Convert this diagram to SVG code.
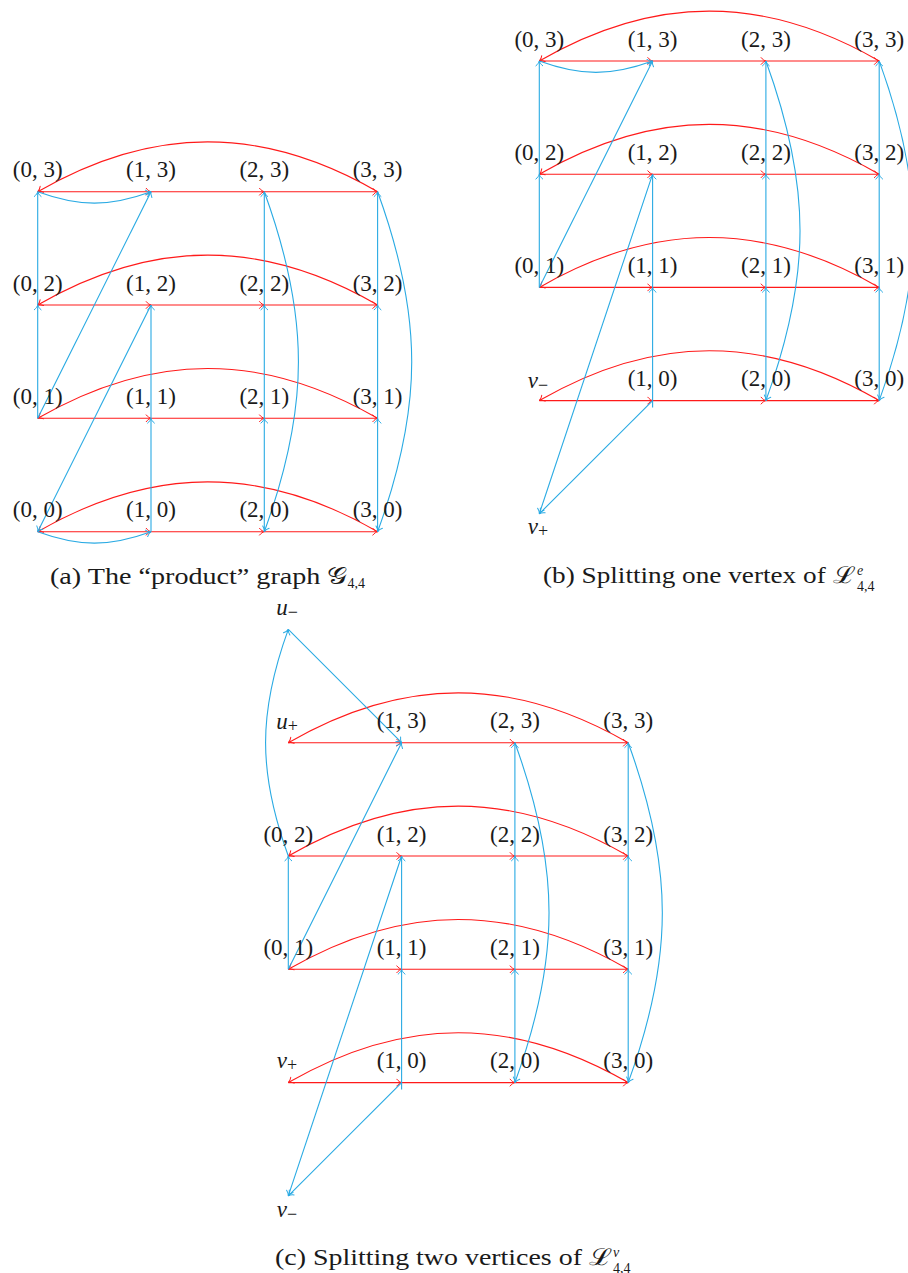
<svg xmlns="http://www.w3.org/2000/svg" width="908" height="1273" viewBox="0 0 908 1273">
<defs>
<style>
.r{stroke:#ff1a1a;fill:none;stroke-width:1.1;marker-end:url(#ar)}
.b{stroke:#29aae3;fill:none;stroke-width:1.1;marker-end:url(#ab)}
.bn{stroke:#29aae3;fill:none;stroke-width:1.1}
text{font-family:"Liberation Serif","DejaVu Serif",serif;fill:#1a1a1a}
.lb{font-size:23px;text-anchor:middle}
.vl{font-size:23px;text-anchor:middle;font-style:italic}
.sb{font-size:18px;font-style:normal}
.cap{font-size:23px}
.sm{font-size:14px}
</style>
<marker id="ar" viewBox="-6 -5 8 10" markerWidth="8" markerHeight="10" refX="0" refY="0" orient="auto" markerUnits="userSpaceOnUse">
<path d="M-4.8,-3.4 C-3.2,-1.3 -1.2,-0.3 0,0 C-1.2,0.3 -3.2,1.3 -4.8,3.4" fill="none" stroke="#ff1a1a" stroke-width="1" stroke-linecap="round"/>
</marker>
<marker id="ab" viewBox="-6 -5 8 10" markerWidth="8" markerHeight="10" refX="0" refY="0" orient="auto" markerUnits="userSpaceOnUse">
<path d="M-4.8,-3.4 C-3.2,-1.3 -1.2,-0.3 0,0 C-1.2,0.3 -3.2,1.3 -4.8,3.4" fill="none" stroke="#29aae3" stroke-width="1" stroke-linecap="round"/>
</marker>
</defs>

<g id="connectors">
<g id="a-red">
<path class="r" d="M37.7,191.7 L151,191.7"/><path class="r" d="M151,191.7 L264.3,191.7"/><path class="r" d="M264.3,191.7 L377.6,191.7"/>
<path class="r" d="M377.6,191.7 C262.4,125.2 152.9,125.2 37.7,191.7"/>
<path class="r" d="M37.7,305 L151,305"/><path class="r" d="M151,305 L264.3,305"/><path class="r" d="M264.3,305 L377.6,305"/>
<path class="r" d="M377.6,305 C262.4,238.5 152.9,238.5 37.7,305"/>
<path class="r" d="M37.7,418.3 L151,418.3"/><path class="r" d="M151,418.3 L264.3,418.3"/><path class="r" d="M264.3,418.3 L377.6,418.3"/>
<path class="r" d="M377.6,418.3 C262.4,351.8 152.9,351.8 37.7,418.3"/>
<path class="r" d="M37.7,531.7 L151,531.7"/><path class="r" d="M151,531.7 L264.3,531.7"/><path class="r" d="M264.3,531.7 L377.6,531.7"/>
<path class="r" d="M377.6,531.7 C262.4,465.2 152.9,465.2 37.7,531.7"/>
</g>
<g id="a-blue">
<path class="b" d="M37.7,191.7 C79.4,206.9 109.3,206.9 151,191.7"/>
<path class="b" d="M37.7,531.7 C79.4,546.9 109.3,546.9 151,531.7"/>
<path class="b" d="M37.7,418.3 L37.7,305"/><path class="b" d="M37.7,305 L37.7,191.7"/>
<path class="b" d="M37.7,418.3 L151,191.7"/>
<path class="b" d="M151,305 L37.7,531.7"/>
<path class="b" d="M151,531.7 L151,418.3"/><path class="b" d="M151,418.3 L151,305"/>
<path class="b" d="M264.3,531.7 L264.3,418.3"/><path class="b" d="M264.3,418.3 L264.3,305"/><path class="b" d="M264.3,305 L264.3,191.7"/>
<path class="b" d="M264.3,191.7 C309.8,316.8 309.8,406.6 264.3,531.7"/>
<path class="b" d="M377.6,531.7 L377.6,418.3"/><path class="b" d="M377.6,418.3 L377.6,305"/><path class="b" d="M377.6,305 L377.6,191.7"/>
<path class="b" d="M377.6,191.7 C423.1,316.8 423.1,406.6 377.6,531.7"/>
</g>

<g id="b-red">
<path class="r" d="M539.3,61 L652.6,61"/><path class="r" d="M652.6,61 L765.9,61"/><path class="r" d="M765.9,61 L879.2,61"/>
<path class="r" d="M879.2,61 C764,-5.5 654.5,-5.5 539.3,61"/>
<path class="r" d="M539.3,174.2 L652.6,174.2"/><path class="r" d="M652.6,174.2 L765.9,174.2"/><path class="r" d="M765.9,174.2 L879.2,174.2"/>
<path class="r" d="M879.2,174.2 C764,107.7 654.5,107.7 539.3,174.2"/>
<path class="r" d="M539.3,287.4 L652.6,287.4"/><path class="r" d="M652.6,287.4 L765.9,287.4"/><path class="r" d="M765.9,287.4 L879.2,287.4"/>
<path class="r" d="M879.2,287.4 C764,220.9 654.5,220.9 539.3,287.4"/>
<path class="r" d="M539.3,400.6 L652.6,400.6"/><path class="r" d="M652.6,400.6 L765.9,400.6"/><path class="r" d="M765.9,400.6 L879.2,400.6"/>
<path class="r" d="M879.2,400.6 C764,334.1 654.5,334.1 539.3,400.6"/>
</g>
<g id="b-blue">
<path class="b" d="M539.3,61 C581,76.2 610.9,76.2 652.6,61"/>
<path class="b" d="M539.3,287.4 L539.3,174.2"/><path class="b" d="M539.3,174.2 L539.3,61"/>
<path class="b" d="M539.3,287.4 L652.6,61"/>
<path class="b" d="M652.6,174.2 L539.3,513.8"/>
<path class="b" d="M652.6,400.6 L539.3,513.8"/>
<path class="b" d="M652.6,407.6 L652.6,287.4"/><path class="b" d="M652.6,287.4 L652.6,174.2"/>
<path class="b" d="M765.9,400.6 L765.9,287.4"/><path class="b" d="M765.9,287.4 L765.9,174.2"/><path class="b" d="M765.9,174.2 L765.9,61"/>
<path class="b" d="M765.9,61 C811.4,186.1 811.4,275.5 765.9,400.6"/>
<path class="b" d="M879.2,400.6 L879.2,287.4"/><path class="b" d="M879.2,287.4 L879.2,174.2"/><path class="b" d="M879.2,174.2 L879.2,61"/>
<path class="b" d="M879.2,61 C924.7,186.1 924.7,275.5 879.2,400.6"/>
</g>

<g id="c-red">
<path class="r" d="M288.3,742.7 L401.6,742.7"/><path class="r" d="M401.6,742.7 L514.9,742.7"/><path class="r" d="M514.9,742.7 L628.2,742.7"/>
<path class="r" d="M628.2,742.7 C513,676.2 403.5,676.2 288.3,742.7"/>
<path class="r" d="M288.3,856 L401.6,856"/><path class="r" d="M401.6,856 L514.9,856"/><path class="r" d="M514.9,856 L628.2,856"/>
<path class="r" d="M628.2,856 C513,789.5 403.5,789.5 288.3,856"/>
<path class="r" d="M288.3,969.3 L401.6,969.3"/><path class="r" d="M401.6,969.3 L514.9,969.3"/><path class="r" d="M514.9,969.3 L628.2,969.3"/>
<path class="r" d="M628.2,969.3 C513,902.8 403.5,902.8 288.3,969.3"/>
<path class="r" d="M288.3,1082.6 L401.6,1082.6"/><path class="r" d="M401.6,1082.6 L514.9,1082.6"/><path class="r" d="M514.9,1082.6 L628.2,1082.6"/>
<path class="r" d="M628.2,1082.6 C513,1016.1 403.5,1016.1 288.3,1082.6"/>
</g>
<g id="c-blue">
<path class="b" d="M288.3,629.4 L401.6,742.7"/>
<path class="b" d="M288.3,856 C258,772.6 258,712.8 288.3,629.4"/>
<path class="b" d="M288.3,969.3 L288.3,856"/>
<path class="b" d="M288.3,969.3 L401.6,742.7"/>
<path class="b" d="M401.6,856 L288.3,1195.9"/>
<path class="b" d="M401.6,1082.6 L288.3,1195.9"/>
<path class="b" d="M401.6,1089.6 L401.6,969.3"/><path class="b" d="M401.6,969.3 L401.6,856"/>
<path class="b" d="M514.9,1082.6 L514.9,969.3"/><path class="b" d="M514.9,969.3 L514.9,856"/><path class="b" d="M514.9,856 L514.9,742.7"/>
<path class="b" d="M514.9,742.7 C560.4,867.8 560.4,957.5 514.9,1082.6"/>
<path class="b" d="M628.2,1082.6 L628.2,969.3"/><path class="b" d="M628.2,969.3 L628.2,856"/><path class="b" d="M628.2,856 L628.2,742.7"/>
<path class="b" d="M628.2,742.7 C673.7,867.8 673.7,957.5 628.2,1082.6"/>
</g>
</g>

<g id="a-0-3"><text class="lb" x="37.7" y="177">(0, 3)</text></g>
<g id="a-1-3"><text class="lb" x="151" y="177">(1, 3)</text></g>
<g id="a-2-3"><text class="lb" x="264.3" y="177">(2, 3)</text></g>
<g id="a-3-3"><text class="lb" x="377.6" y="177">(3, 3)</text></g>
<g id="a-0-2"><text class="lb" x="37.7" y="290.5">(0, 2)</text></g>
<g id="a-1-2"><text class="lb" x="151" y="290.5">(1, 2)</text></g>
<g id="a-2-2"><text class="lb" x="264.3" y="290.5">(2, 2)</text></g>
<g id="a-3-2"><text class="lb" x="377.6" y="290.5">(3, 2)</text></g>
<g id="a-0-1"><text class="lb" x="37.7" y="403.8">(0, 1)</text></g>
<g id="a-1-1"><text class="lb" x="151" y="403.8">(1, 1)</text></g>
<g id="a-2-1"><text class="lb" x="264.3" y="403.8">(2, 1)</text></g>
<g id="a-3-1"><text class="lb" x="377.6" y="403.8">(3, 1)</text></g>
<g id="a-0-0"><text class="lb" x="37.7" y="517.2">(0, 0)</text></g>
<g id="a-1-0"><text class="lb" x="151" y="517.2">(1, 0)</text></g>
<g id="a-2-0"><text class="lb" x="264.3" y="517.2">(2, 0)</text></g>
<g id="a-3-0"><text class="lb" x="377.6" y="517.2">(3, 0)</text></g>

<g id="b-0-3"><text class="lb" x="539.3" y="46.5">(0, 3)</text></g>
<g id="b-1-3"><text class="lb" x="652.6" y="46.5">(1, 3)</text></g>
<g id="b-2-3"><text class="lb" x="765.9" y="46.5">(2, 3)</text></g>
<g id="b-3-3"><text class="lb" x="879.2" y="46.5">(3, 3)</text></g>
<g id="b-0-2"><text class="lb" x="539.3" y="159.7">(0, 2)</text></g>
<g id="b-1-2"><text class="lb" x="652.6" y="159.7">(1, 2)</text></g>
<g id="b-2-2"><text class="lb" x="765.9" y="159.7">(2, 2)</text></g>
<g id="b-3-2"><text class="lb" x="879.2" y="159.7">(3, 2)</text></g>
<g id="b-0-1"><text class="lb" x="539.3" y="272.9">(0, 1)</text></g>
<g id="b-1-1"><text class="lb" x="652.6" y="272.9">(1, 1)</text></g>
<g id="b-2-1"><text class="lb" x="765.9" y="272.9">(2, 1)</text></g>
<g id="b-3-1"><text class="lb" x="879.2" y="272.9">(3, 1)</text></g>
<g id="b-vminus"><text class="vl" x="538" y="387.5">v<tspan class="sb" dy="3">−</tspan></text></g>
<g id="b-1-0"><text class="lb" x="652.6" y="386.1">(1, 0)</text></g>
<g id="b-2-0"><text class="lb" x="765.9" y="386.1">(2, 0)</text></g>
<g id="b-3-0"><text class="lb" x="879.2" y="386.1">(3, 0)</text></g>
<g id="b-vplus"><text class="vl" x="538" y="533.5">v<tspan class="sb" dy="3">+</tspan></text></g>

<g id="c-uminus"><text class="vl" x="287" y="615">u<tspan class="sb" dy="3">−</tspan></text></g>
<g id="c-uplus"><text class="vl" x="287" y="728.5">u<tspan class="sb" dy="3">+</tspan></text></g>
<g id="c-1-3"><text class="lb" x="401.6" y="728.2">(1, 3)</text></g>
<g id="c-2-3"><text class="lb" x="514.9" y="728.2">(2, 3)</text></g>
<g id="c-3-3"><text class="lb" x="628.2" y="728.2">(3, 3)</text></g>
<g id="c-0-2"><text class="lb" x="288.3" y="841.5">(0, 2)</text></g>
<g id="c-1-2"><text class="lb" x="401.6" y="841.5">(1, 2)</text></g>
<g id="c-2-2"><text class="lb" x="514.9" y="841.5">(2, 2)</text></g>
<g id="c-3-2"><text class="lb" x="628.2" y="841.5">(3, 2)</text></g>
<g id="c-0-1"><text class="lb" x="288.3" y="954.8">(0, 1)</text></g>
<g id="c-1-1"><text class="lb" x="401.6" y="954.8">(1, 1)</text></g>
<g id="c-2-1"><text class="lb" x="514.9" y="954.8">(2, 1)</text></g>
<g id="c-3-1"><text class="lb" x="628.2" y="954.8">(3, 1)</text></g>
<g id="c-vplus"><text class="vl" x="287" y="1068.3">v<tspan class="sb" dy="3">+</tspan></text></g>
<g id="c-1-0"><text class="lb" x="401.6" y="1068.1">(1, 0)</text></g>
<g id="c-2-0"><text class="lb" x="514.9" y="1068.1">(2, 0)</text></g>
<g id="c-3-0"><text class="lb" x="628.2" y="1068.1">(3, 0)</text></g>
<g id="c-vminus"><text class="vl" x="287" y="1216.5">v<tspan class="sb" dy="3">−</tspan></text></g>

<g id="caption-a">
<text class="cap" x="50" y="584" textLength="297" lengthAdjust="spacingAndGlyphs">(a) The “product” graph 𝒢</text>
<text class="sm" x="347.5" y="587.5">4,4</text>
</g>
<g id="caption-b">
<text class="cap" x="543" y="583.3" textLength="312" lengthAdjust="spacingAndGlyphs">(b) Splitting one vertex of ℒ</text>
<text class="sm" x="857" y="575" font-style="italic">e</text>
<text class="sm" x="857" y="591">4,4</text>
</g>
<g id="caption-c">
<text class="cap" x="275" y="1265" textLength="337" lengthAdjust="spacingAndGlyphs">(c) Splitting two vertices of ℒ</text>
<text class="sm" x="613" y="1256.5" font-style="italic">v</text>
<text class="sm" x="613" y="1272.5">4,4</text>
</g>
</svg>
